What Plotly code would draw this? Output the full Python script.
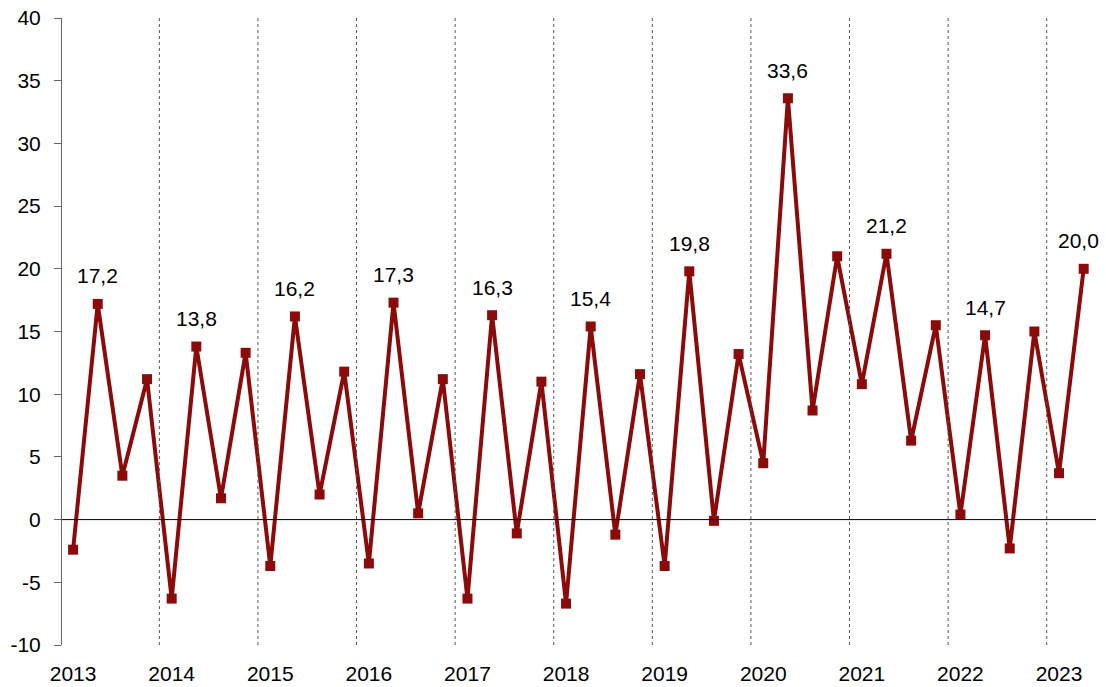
import plotly.graph_objects as go

years = [str(y) for y in range(2013, 2024)]
quarters_per_year = 4
values = [
    -2.4, 17.2, 3.5, 11.2,
    -6.3, 13.8, 1.7, 13.3,
    -3.7, 16.2, 2.0, 11.8,
    -3.5, 17.3, 0.5, 11.2,
    -6.3, 16.3, -1.1, 11.0,
    -6.7, 15.4, -1.2, 11.6,
    -3.7, 19.8, -0.1, 13.2,
    4.5, 33.6, 8.7, 21.0,
    10.8, 21.2, 6.3, 15.5,
    0.4, 14.7, -2.3, 15.0,
    3.7, 20.0,
]
label_quarter = 1  # Q2 values are labelled
y_ticks = list(range(-10, 45, 5))
y_ticktext = [str(t) for t in y_ticks]

x = list(range(len(values)))
color = "#8b0a0a"
font_family = "Liberation Sans, Arial, sans-serif"
text_color = "#000000"
fsize = 21

fig = go.Figure()
fig.add_trace(go.Scatter(
    x=x, y=values, mode="lines+markers",
    line=dict(color=color, width=4),
    marker=dict(symbol="square", size=10, color=color),
    showlegend=False, hoverinfo="x+y", cliponaxis=False,
))

# labels on Q2 points
last = len(values) - 1
for i, v in enumerate(values):
    if i % quarters_per_year == label_quarter:
        fig.add_annotation(
            x=i, y=v, text=f"{v:.1f}".replace(".", ","),
            showarrow=False, yshift=28, xshift=(-5 if i == last else 0),
            font=dict(size=fsize, color=text_color, family=font_family),
        )

# dotted year separators
for k in range(1, len(years)):
    xb = k * quarters_per_year - 0.5
    fig.add_shape(type="line", x0=xb, x1=xb, y0=0, y1=1,
                  xref="x", yref="paper",
                  line=dict(color="#555555", width=1, dash="dot"))

# zero line
fig.add_shape(type="line", x0=0, x1=1, y0=0, y1=0, xref="paper", yref="y",
              line=dict(color="#000000", width=1))

fig.update_layout(
    width=1106, height=687,
    margin=dict(l=62, r=10, t=18, b=42, autoexpand=False),
    paper_bgcolor="white", plot_bgcolor="white",
    font=dict(family=font_family, size=fsize, color=text_color),
    xaxis=dict(
        range=[-0.45, len(values) - 0.5],
        tickmode="array",
        tickvals=[i * quarters_per_year for i in range(len(years))],
        ticktext=years,
        showgrid=False, zeroline=False, showline=False,
        ticks="", tickfont=dict(size=fsize), automargin=False,
        ticklabelstandoff=14, ticklabeloverflow="allow",
    ),
    yaxis=dict(
        range=[-10, 40],
        tickmode="array", tickvals=y_ticks, ticktext=y_ticktext,
        showgrid=False, zeroline=False,
        showline=True, linecolor="#666666", linewidth=1,
        ticks="outside", ticklen=7, tickcolor="#666666",
        tickfont=dict(size=fsize), automargin=False,
        ticklabelstandoff=9, ticklabeloverflow="allow",
    ),
)

# remove the default page margin so the figure fills the window exactly
fig.write_html(
    "out.html",
    config={"displayModeBar": False},
    post_script="document.body.style.margin='0';",
)
